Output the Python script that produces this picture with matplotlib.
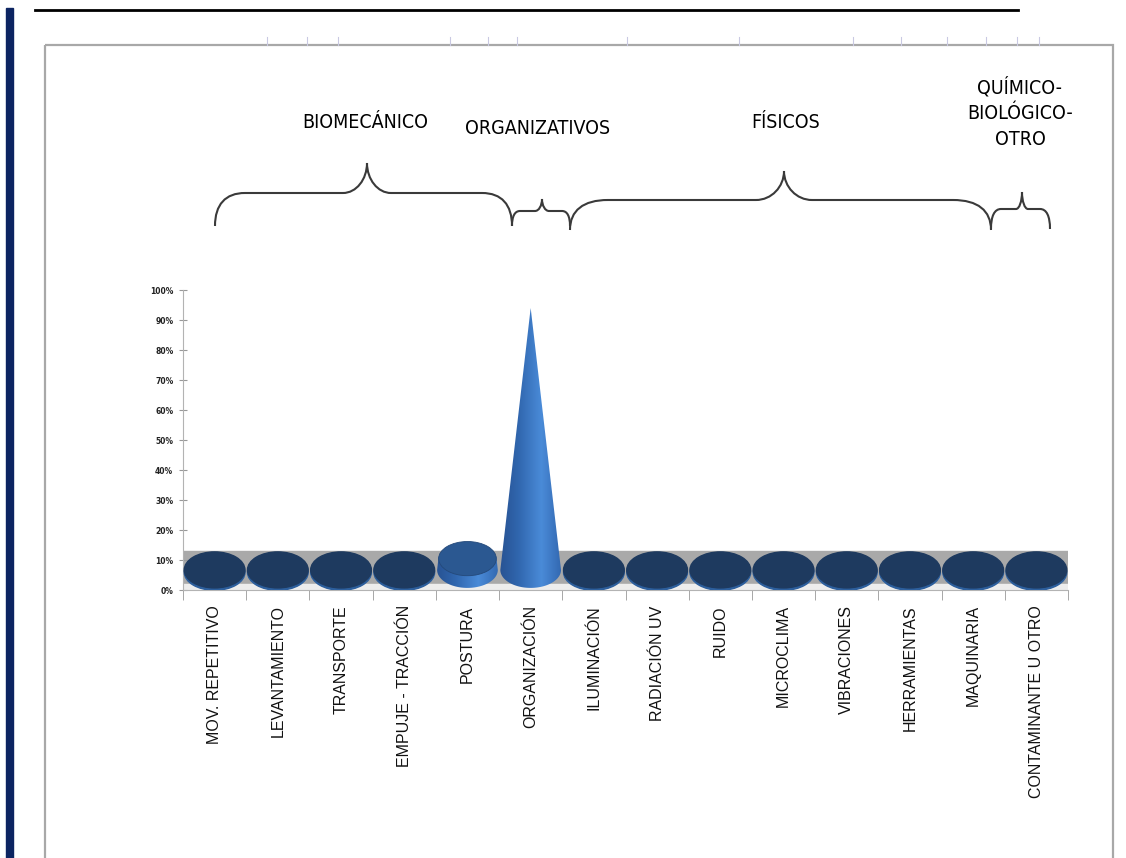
import numpy as np
import matplotlib
matplotlib.use("Agg")
import matplotlib.pyplot as plt
from matplotlib import font_manager
from matplotlib.patches import Rectangle, Ellipse, Polygon, PathPatch
from matplotlib.path import Path
from matplotlib.colors import LinearSegmentedColormap

# data
categories = ["MOV. REPETITIVO", "LEVANTAMIENTO", "TRANSPORTE", "EMPUJE - TRACCIÓN",
              "POSTURA", "ORGANIZACIÓN", "ILUMINACIÓN", "RADIACIÓN UV", "RUIDO",
              "MICROCLIMA", "VIBRACIONES", "HERRAMIENTAS", "MAQUINARIA",
              "CONTAMINANTE U OTRO"]
values = [0, 0, 0, 0, 0.05, 1.0, 0, 0, 0, 0, 0, 0, 0, 0]
y_ticks = [0, 0.1, 0.2, 0.3, 0.4, 0.5, 0.6, 0.7, 0.8, 0.9, 1.0]
group_labels = ["BIOMECÁNICO", "ORGANIZATIVOS", "FÍSICOS", "QUÍMICO-\nBIOLÓGICO-\nOTRO"]

# look for a narrow face for the headings, else plain Liberation Sans
narrow = None
for f in font_manager.fontManager.ttflist:
    if ("Narrow" in f.name or "Condensed" in f.name
            or f.stretch in ("condensed", "semi-condensed", "extra-condensed")):
        if f.weight in (400, "normal", "regular") and f.style == "normal":
            narrow = f
            break
if narrow is not None:
    HEAD = dict(fontproperties=font_manager.FontProperties(fname=narrow.fname, size=14))
else:
    HEAD = dict(family=["Liberation Sans", "DejaVu Sans"], fontsize=13)

fig = plt.figure(figsize=(11.26, 8.58), dpi=100)

# page decorations in pixel coordinates
bg = fig.add_axes([0, 0, 1, 1])
bg.set_xlim(0, 1126)
bg.set_ylim(858, 0)
bg.axis("off")

bg.add_patch(Rectangle((6, 8), 7, 860, color="#0c2461"))
bg.plot([35, 1018], [10, 10], color="black", lw=2)
bg.add_patch(Rectangle((45, 45), 1068, 840, fill=False, ec="#a8a8a8", lw=1.6))
for tx in [267, 307, 338, 450, 488, 517, 627, 739, 853, 901, 947, 986, 1017, 1039]:
    bg.plot([tx, tx], [37, 45], color="#c9c9e2", lw=0.8)


def brace(ax, x0, x1, xc, yb, yh, yt, re, rm):
    verts = [(x0, yb),
             (x0, yh + (yb - yh) * 0.35), (x0 + re * 0.35, yh), (x0 + re, yh),
             (xc - rm, yh),
             (xc - rm * 0.45, yh), (xc, yh - (yh - yt) * 0.45), (xc, yt),
             (xc, yh - (yh - yt) * 0.45), (xc + rm * 0.45, yh), (xc + rm, yh),
             (x1 - re, yh),
             (x1 - re * 0.35, yh), (x1, yh + (yb - yh) * 0.35), (x1, yb)]
    codes = [Path.MOVETO, Path.CURVE4, Path.CURVE4, Path.CURVE4, Path.LINETO,
             Path.CURVE4, Path.CURVE4, Path.CURVE4, Path.CURVE4, Path.CURVE4,
             Path.CURVE4, Path.LINETO, Path.CURVE4, Path.CURVE4, Path.CURVE4]
    ax.add_patch(PathPatch(Path(verts, codes), fill=False, ec="#3a3a3a", lw=1.5))


brace(bg, 215, 512, 367, 226, 193, 163, 30, 24)
brace(bg, 512, 570, 542, 226, 211, 199, 8, 7)
brace(bg, 570, 991, 784, 230, 200, 171, 38, 28)
brace(bg, 991, 1050, 1022, 229, 209, 192, 10, 6)

bg.text(365, 122, group_labels[0], ha="center", va="center", **HEAD)
bg.text(538, 128, group_labels[1], ha="center", va="center", **HEAD)
bg.text(786, 122, group_labels[2], ha="center", va="center", **HEAD)
bg.text(1020, 113, group_labels[3], ha="center", va="center", linespacing=1.45, **HEAD)

# the chart
ax = fig.add_axes([183 / 1126, 1 - 590 / 858, 885 / 1126, 300 / 858])
ax.patch.set_alpha(0)

n = len(categories)
ax.add_patch(Rectangle((-0.5, 0.02), n, 0.11, color="#a9a9a9", zorder=1))
ax.add_patch(Rectangle((-0.5, 0.0), n, 0.02, color="#ededed", zorder=1))

cone_cmap = LinearSegmentedColormap.from_list(
    "cone", [(0, "#285393"), (0.3, "#3066ae"), (0.68, "#4a8bd8"), (1, "#3369b2")])

W = 0.48      # half width of a cone base, in categories
HH = 0.06     # half height of the base ellipse, in axis units
BASE = 0.067  # front base centre
SCALE = 0.873
vmax = max(values)

for i, v in enumerate(values):
    if v <= 0:
        ax.add_patch(Ellipse((i, BASE - 0.008), 2 * W, 2 * HH, color="#2c5e9c", zorder=3))
        ax.add_patch(Ellipse((i, BASE), 2 * W, 2 * HH, color="#1e3a5f", zorder=4))
        continue
    top = BASE + v * SCALE
    r_top = W * (1 - v / vmax)
    t = np.linspace(0, -np.pi, 60)
    pts = [(i - W, BASE), (i - r_top, top), (i + r_top, top), (i + W, BASE)]
    pts += list(zip(i + W * np.cos(t), BASE + HH * np.sin(t)))
    side = Polygon(pts, closed=True, fc="none", ec="none", zorder=3)
    ax.add_patch(side)
    im = ax.imshow(np.linspace(0, 1, 256)[None, :], cmap=cone_cmap, aspect="auto",
                   extent=(i - W, i + W, BASE - HH, top), origin="lower", zorder=3)
    im.set_clip_path(side)
    if r_top > 0:
        ax.add_patch(Ellipse((i, top - 0.006), 2 * r_top, 2 * HH * r_top / W,
                             fc="#2b5891", ec="#24497a", lw=0.6, zorder=4))

ax.set_xlim(-0.5, n - 0.5)
ax.set_ylim(0, 1)

ax.set_yticks(y_ticks)
ax.set_yticklabels([f"{int(round(t * 100))}%" for t in y_ticks],
                   fontsize=5.5, fontweight="bold", color="#222222")
ax.set_xticks(range(n))
ax.set_xticklabels(categories, rotation=90, fontsize=11.5, va="top", ha="center",
                   family="Liberation Sans", color="#111111")
ax.set_xticks(np.arange(-0.5, n, 1), minor=True)
ax.tick_params(axis="x", which="major", length=0, pad=11)
ax.tick_params(axis="x", which="minor", length=7, color="#999999", direction="out")
ax.tick_params(axis="y", length=6, direction="inout", color="#999999", pad=4)
for s in ["top", "right"]:
    ax.spines[s].set_visible(False)
ax.spines["left"].set_color("#b3b3b3")
ax.spines["bottom"].set_color("#b3b3b3")

fig.savefig("out.png", dpi=100)
